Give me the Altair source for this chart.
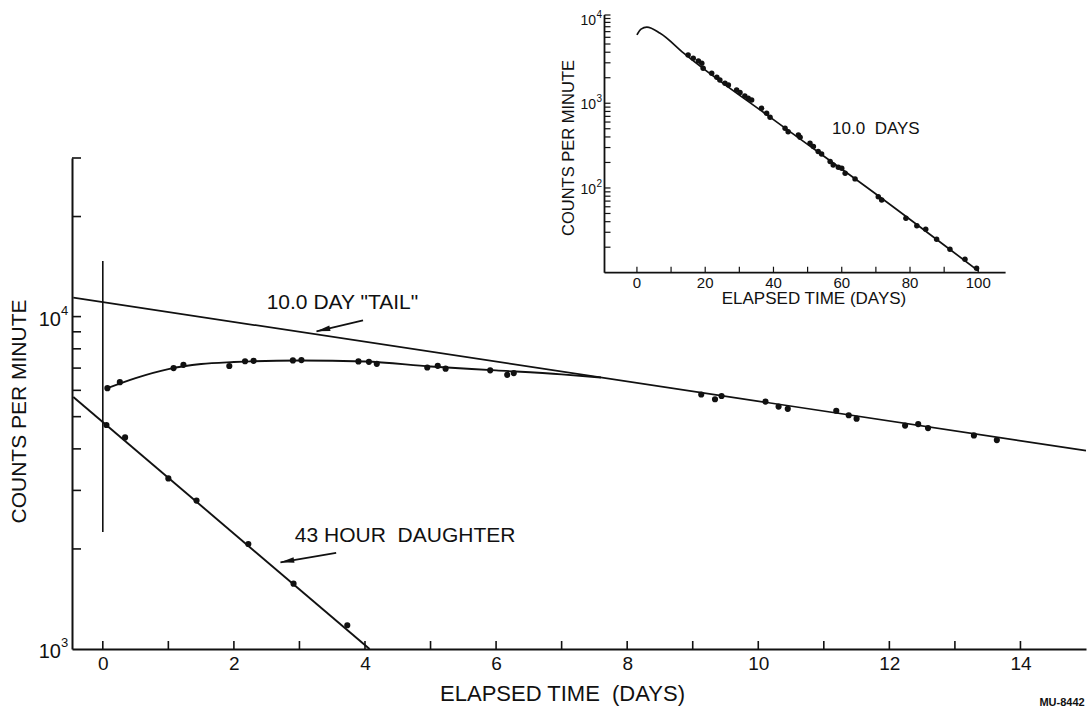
import altair as alt
import pandas as pd

FONT = "Liberation Sans"
INK = "#111111"

# ---------------- main panel: counts per minute vs elapsed time (days) ----------------
total_t = [0.07, 0.26, 1.08, 1.23, 1.93, 2.17, 2.30, 2.90, 3.03, 3.90, 4.06, 4.18,
           4.95, 5.11, 5.23, 5.91, 6.17, 6.27, 9.13, 9.34, 9.44, 10.11, 10.31, 10.45,
           11.19, 11.38, 11.50, 12.24, 12.44, 12.59, 13.29, 13.64]
total_cpm = [6090, 6350, 7000, 7160, 7100, 7340, 7360, 7380, 7400, 7330, 7310, 7210,
             7030, 7110, 6970, 6890, 6680, 6760, 5830, 5640, 5770, 5550, 5360, 5280,
             5210, 5050, 4930, 4700, 4750, 4620, 4390, 4250]

# smooth growth-and-decay curve drawn through the total activity
curve_t = [0.07, 0.5, 1.0, 1.5, 2.0, 3.0, 4.0, 5.0, 6.0, 7.0, 7.6]
curve_cpm = [6090, 6530, 6950, 7200, 7300, 7380, 7330, 7080, 6890, 6700, 6560]

daughter_t = [0.055, 0.34, 1.0, 1.43, 2.22, 2.91, 3.73]
daughter_cpm = [4720, 4330, 3260, 2795, 2070, 1572, 1179]
daughter_fit_t = [-0.45, 4.07]
daughter_fit_cpm = [5730, 1000]

tail_t = [-0.45, 15.0]
tail_cpm = [11400, 3950]

zero_mark_t = [0.0]
zero_mark_lo = [2250]
zero_mark_hi = [14700]

main_xticks = list(range(0, 15))
main_xlabels = list(range(0, 15, 2))
main_yticks = [2000, 3000, 4000, 5000, 6000, 7000, 8000, 9000, 10000, 20000, 30000]
main_ylabel_cpm = [1000, 10000]
main_ylabel_exp = ["3", "4"]

# ---------------- inset: long-term decay ----------------
inset_t = [15.0, 16.5, 18.0, 19.0, 19.4, 21.9, 23.4, 24.3, 25.8, 26.8, 29.2, 30.2,
           31.6, 32.6, 33.6, 36.5, 38.0, 39.0, 43.4, 44.3, 47.3, 47.8, 50.7, 51.7,
           53.1, 54.1, 56.6, 57.5, 59.0, 60.0, 61.0, 63.9, 70.7, 71.7, 78.8, 82.0,
           84.6, 87.8, 91.7, 96.1, 99.5]
inset_cpm = [3720, 3400, 3150, 2960, 2590, 2260, 2030, 1885, 1720, 1645, 1435, 1335,
             1220, 1145, 1094, 873, 762, 684, 507, 462, 423, 397, 337, 308,
             269, 252, 205, 187, 176, 171, 149, 128, 79, 72, 43.9, 35.9,
             32.5, 24.8, 18.9, 14.4, 11.3]
inset_curve_t = [0, 1.2, 2.9, 6.8, 13.7, 40, 70, 100]
inset_curve_cpm = [6400, 7500, 7900, 6700, 3900, 640, 85, 10.5]

inset_xticks = list(range(0, 101, 10))
inset_xlabels = list(range(0, 101, 20))
inset_yticks = [k * 10 ** e for e in (1, 2, 3) for k in range(2, 10)] + [100, 1000, 10000, 11000]
inset_ylabel_cpm = [100, 1000, 10000]
inset_ylabel_exp = ["2", "3", "4"]

# ---------------- geometry ----------------
W, H = 1014, 491
X_MAIN = alt.Scale(domain=[-0.47, 15.0], nice=False, zero=False)
Y_MAIN = alt.Scale(type="log", domain=[1000, 30000], nice=False)
X_IN = alt.Scale(domain=[-9.5, 108], range=[532.5, 933.6], nice=False, zero=False)
Y_IN = alt.Scale(type="log", domain=[10, 11000], range=[114.7, -143], nice=False)


def frame(**cols):
    return pd.DataFrame(cols)


def mx(field="t", axis=None):
    return alt.X(f"{field}:Q", scale=X_MAIN, axis=axis)


def my(field="cpm", axis=None):
    return alt.Y(f"{field}:Q", scale=Y_MAIN, axis=axis)


def ix(field="t"):
    return alt.X(f"{field}:Q", scale=X_IN, axis=None)


def iy(field="cpm"):
    return alt.Y(f"{field}:Q", scale=Y_IN, axis=None)


x_axis = alt.Axis(values=main_xlabels, format="d", ticks=False, tickSize=0, grid=False,
                  domainWidth=2, domainColor=INK, labelFont=FONT, labelFontSize=19,
                  labelColor=INK, labelPadding=5, labelFlush=False,
                  title="ELAPSED TIME\u00a0\u00a0(DAYS)", titleFont=FONT, titleFontSize=22,
                  titleFontWeight="normal", titleColor=INK, titleX=490, titleY=44,
                  titleBaseline="middle", titleAlign="center", titleAngle=0)
y_axis = alt.Axis(labels=False, ticks=False, tickSize=0, grid=False, domainWidth=2,
                  domainColor=INK, title="COUNTS PER MINUTE", titleFont=FONT,
                  titleFontSize=21, titleFontWeight="normal", titleColor=INK,
                  titleX=-53, titleY=253, titleAngle=270, titleBaseline="middle",
                  titleAlign="center")

ARROW = "M0,0L0.4,2L-0.4,2Z"

# ---------------- main layers ----------------
tail_line = alt.Chart(frame(t=tail_t, cpm=tail_cpm)).mark_line(
    color=INK, strokeWidth=1.7).encode(x=mx(axis=x_axis), y=my(axis=y_axis))

curve_line = alt.Chart(frame(t=curve_t, cpm=curve_cpm)).mark_line(
    color=INK, strokeWidth=1.9, interpolate="monotone").encode(x=mx(), y=my())

daughter_line = alt.Chart(frame(t=daughter_fit_t, cpm=daughter_fit_cpm)).mark_line(
    color=INK, strokeWidth=1.9).encode(x=mx(), y=my())

zero_line = alt.Chart(frame(t=zero_mark_t, cpm=zero_mark_lo, cpm2=zero_mark_hi)).mark_rule(
    color=INK, strokeWidth=1.6).encode(x=mx(), y=my(), y2=alt.Y2("cpm2:Q"))

total_dots = alt.Chart(frame(t=total_t, cpm=total_cpm)).mark_circle(
    color=INK, size=38, opacity=1).encode(x=mx(), y=my())

daughter_dots = alt.Chart(frame(t=daughter_t, cpm=daughter_cpm)).mark_circle(
    color=INK, size=38, opacity=1).encode(x=mx(), y=my())

y_ticks = alt.Chart(frame(cpm=main_yticks)).mark_rule(color=INK, strokeWidth=1.6).encode(
    y=my(), x=alt.value(0), x2=alt.value(9))

x_ticks = alt.Chart(frame(t=main_xticks)).mark_rule(color=INK, strokeWidth=1.6).encode(
    x=mx(), y=alt.value(H), y2=alt.value(H - 8))

pow_df = frame(cpm=main_ylabel_cpm, base=["10", "10"], exp=main_ylabel_exp)
pow_base = alt.Chart(pow_df).mark_text(
    font=FONT, fontSize=20, color=INK, align="right", baseline="middle", dy=3).encode(
    y=my(), x=alt.value(-11), text="base:N")
pow_exp = alt.Chart(pow_df).mark_text(
    font=FONT, fontSize=13, color=INK, align="left", baseline="middle", dy=-6).encode(
    y=my(), x=alt.value(-11), text="exp:N")

notes = frame(t=[2.5, 2.93], cpm=[11020, 2193],
              lab=['10.0 DAY "TAIL"', "43 HOUR\u00a0\u00a0DAUGHTER"])
note_text = alt.Chart(notes).mark_text(
    font=FONT, fontSize=21, color=INK, align="left", baseline="middle").encode(
    x=mx(), y=my(), text="lab:N")

arrows = frame(t=[3.97, 3.56], cpm=[9745, 1946], t2=[3.26, 2.71], cpm2=[9030, 1823])
arrow_shafts = alt.Chart(arrows).mark_rule(color=INK, strokeWidth=1.7).encode(
    x=mx(), y=my(), x2=alt.X2("t2:Q"), y2=alt.Y2("cpm2:Q"))
head_tail = alt.Chart(frame(t=[3.26], cpm=[9030])).mark_point(
    shape=ARROW, filled=True, size=190, angle=257, color=INK, opacity=1).encode(x=mx(), y=my())
head_daughter = alt.Chart(frame(t=[2.71], cpm=[1823])).mark_point(
    shape=ARROW, filled=True, size=190, angle=260, color=INK, opacity=1).encode(x=mx(), y=my())

stamp = alt.Chart(frame(a=[0])).mark_text(
    font=FONT, fontSize=11, fontWeight="bold", color=INK, align="center",
    baseline="middle").encode(x=alt.value(990), y=alt.value(545), text=alt.value("MU-8442"))

main_layers = [tail_line, curve_line, daughter_line, zero_line, total_dots,
               daughter_dots, y_ticks, x_ticks, pow_base, pow_exp, note_text,
               arrow_shafts, head_tail, head_daughter, stamp]

# ---------------- inset layers ----------------
in_hline = alt.Chart(frame(t=[-9.5], t2=[108], cpm=[10])).mark_rule(
    color=INK, strokeWidth=1.8).encode(x=ix(), x2=alt.X2("t2:Q"), y=iy())
in_vline = alt.Chart(frame(t=[-9.5], cpm=[10], cpm2=[11000])).mark_rule(
    color=INK, strokeWidth=1.8).encode(x=ix(), y=iy(), y2=alt.Y2("cpm2:Q"))
in_yticks = alt.Chart(frame(t=[-9.5] * len(inset_yticks), cpm=inset_yticks)).mark_rule(
    color=INK, strokeWidth=1.2).encode(x=ix(), x2=alt.value(538.5), y=iy())
in_xticks = alt.Chart(frame(t=inset_xticks, cpm=[10] * len(inset_xticks))).mark_rule(
    color=INK, strokeWidth=1.2).encode(x=ix(), y=iy(), y2=alt.value(108.7))
in_xlabels = alt.Chart(frame(t=inset_xlabels, lab=[str(v) for v in inset_xlabels])).mark_text(
    font=FONT, fontSize=15, color=INK, align="center", baseline="middle").encode(
    x=ix(), y=alt.value(125), text="lab:N")
in_pow_df = frame(cpm=inset_ylabel_cpm, base=["10"] * 3, exp=inset_ylabel_exp)
in_pow_base = alt.Chart(in_pow_df).mark_text(
    font=FONT, fontSize=14, color=INK, align="right", baseline="middle", dy=2).encode(
    y=iy(), x=alt.value(524), text="base:N")
in_pow_exp = alt.Chart(in_pow_df).mark_text(
    font=FONT, fontSize=10, color=INK, align="left", baseline="middle", dy=-4).encode(
    y=iy(), x=alt.value(524.5), text="exp:N")
in_ytitle = alt.Chart(frame(a=[0])).mark_text(
    font=FONT, fontSize=16.5, color=INK, align="center", baseline="middle", angle=270).encode(
    x=alt.value(497), y=alt.value(-10), text=alt.value("COUNTS PER MINUTE"))
in_xtitle = alt.Chart(frame(a=[0])).mark_text(
    font=FONT, fontSize=17, color=INK, align="center", baseline="middle").encode(
    x=alt.value(742), y=alt.value(141), text=alt.value("ELAPSED TIME (DAYS)"))
in_note = alt.Chart(frame(t=[70.0], cpm=[498], lab=["10.0\u00a0\u00a0DAYS"])).mark_text(
    font=FONT, fontSize=17, color=INK, align="center", baseline="middle").encode(
    x=ix(), y=iy(), text="lab:N")
in_curve = alt.Chart(frame(t=inset_curve_t, cpm=inset_curve_cpm)).mark_line(
    color=INK, strokeWidth=1.7, interpolate="monotone").encode(x=ix(), y=iy())
in_dots = alt.Chart(frame(t=inset_t, cpm=inset_cpm)).mark_circle(
    color=INK, size=30, opacity=1).encode(x=ix(), y=iy())

inset_layers = [in_hline, in_vline, in_yticks, in_xticks, in_xlabels, in_pow_base,
                in_pow_exp, in_ytitle, in_xtitle, in_note, in_curve, in_dots]

# every layer carries its own (explicit) scales so the inset can sit on top of the main panel
chart = alt.layer(*main_layers, *inset_layers).resolve_scale(
    x="independent", y="independent").properties(
    width=W, height=H,
    padding={"left": 72, "top": 158, "right": 6, "bottom": 63},
    autosize=alt.AutoSizeParams(type="none"),
    background="white",
).configure_view(stroke=None)

chart.save("out.html", embed_options={"renderer": "svg", "actions": False})
